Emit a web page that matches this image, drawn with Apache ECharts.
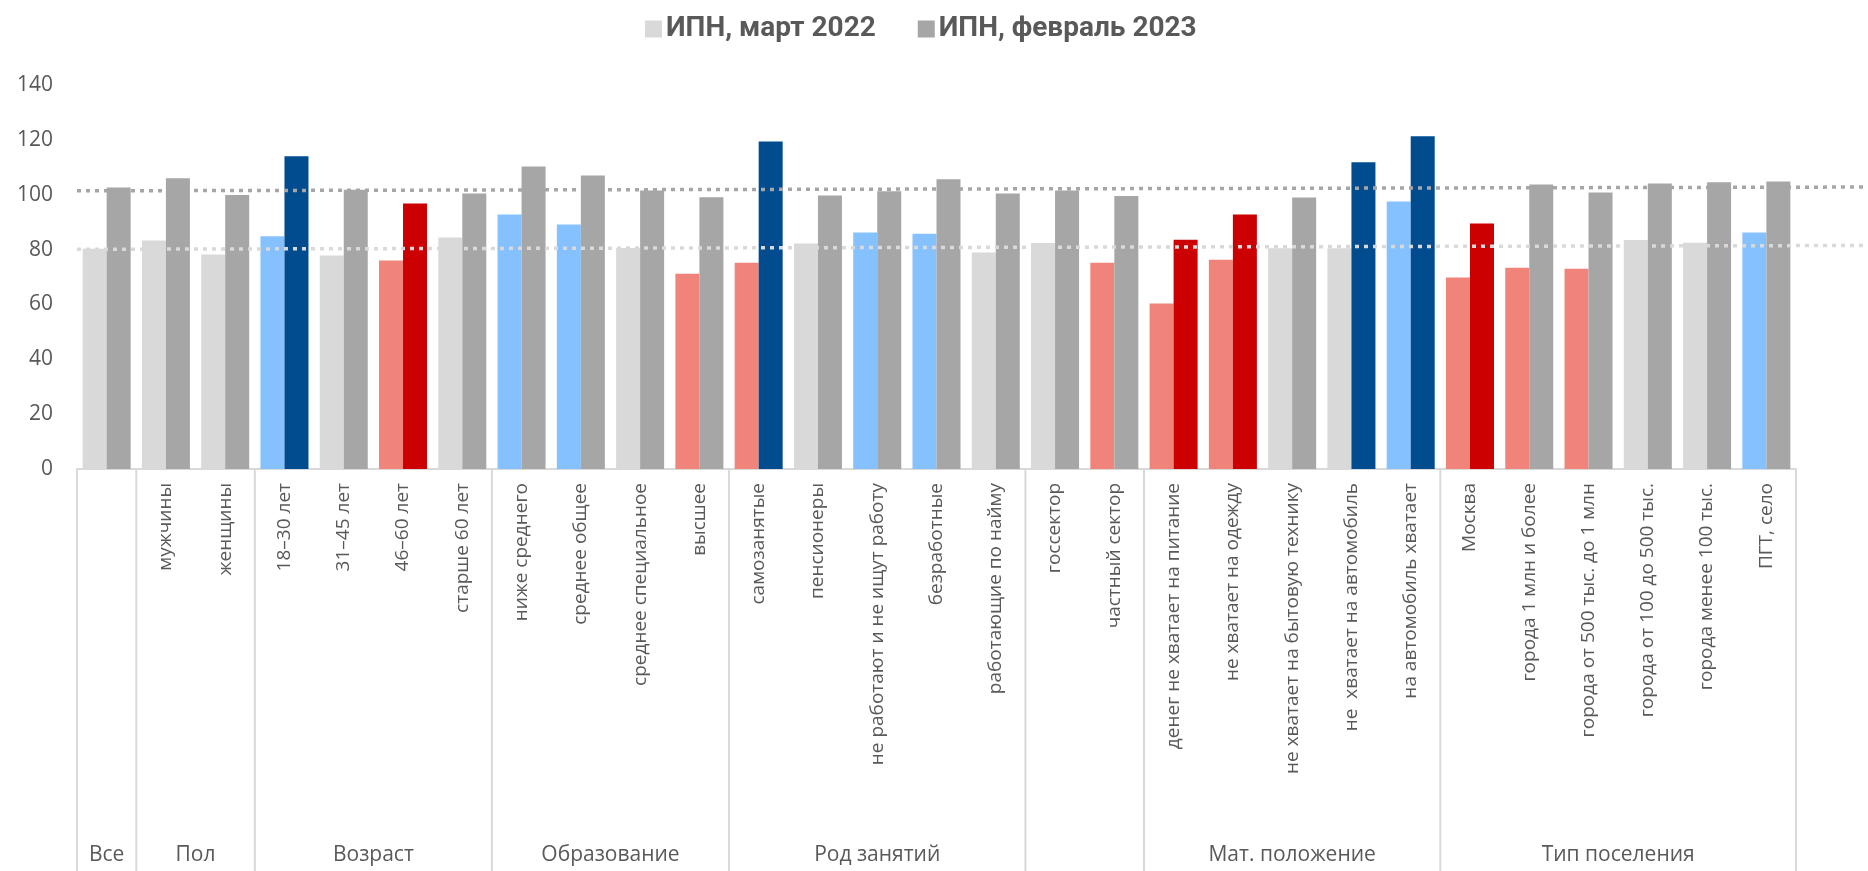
<!DOCTYPE html>
<html>
<head>
<meta charset="utf-8">
<script src="https://cdn.jsdelivr.net/npm/echarts@6/dist/echarts.min.js"></script>
<style>html,body{margin:0;padding:0;background:#fff;}#c{width:1868px;height:871px;}</style>
</head>
<body>
<div id="c"></div>
<script>
const categories = ['','мужчины','женщины','18–30 лет','31–45 лет','46–60 лет','старше 60 лет',
  'ниже среднего','среднее общее','среднее специальное','высшее',
  'самозанятые','пенсионеры','не работают и не ищут работу','безработные','работающие по найму',
  'госсектор','частный сектор',
  'денег не хватает на питание','не хватает на одежду','не хватает на бытовую технику','не  хватает на автомобиль','на автомобиль хватает',
  'Москва','города 1 млн и более','города от 500 тыс. до 1 млн','города от 100 до 500 тыс.','города менее 100 тыс.','ПГТ, село'];
const march2022 = [80.3,83.3,78.2,84.9,77.8,76.0,84.4,92.8,89.1,80.6,71.2,75.2,82.2,86.2,85.8,78.9,82.4,75.2,60.3,76.3,80.5,80.5,97.5,69.8,73.4,73.0,83.5,82.5,86.2];
const feb2023   = [102.6,106.0,99.9,114.0,101.8,96.8,100.4,110.3,107.0,101.5,99.1,119.4,99.7,101.3,105.6,100.4,101.5,99.5,83.6,92.8,99.0,111.8,121.3,89.5,103.7,100.8,104.1,104.5,104.8];
// significance of difference: 'up', 'down', 'n' (none)
const marchSignif = ['n','n','n','up','n','down','n','up','up','n','down','down','n','up','up','n','n','down','down','down','n','n','up','down','down','down','n','n','up'];
const febSignif   = ['n','n','n','up','n','down','n','n','n','n','n','up','n','n','n','n','n','n','down','down','n','up','up','down','n','n','n','n','n'];
const groupNames = ['Все','Пол','Возраст','Образование','Род занятий','','Мат. положение','Тип поселения'];
const groupSizes = [1,2,4,4,5,2,5,6];
const seriesNames = ['ИПН, март 2022','ИПН, февраль 2023'];
// reference levels (start, end of the dotted lines)
const refFeb = [101.4, 102.8];
const refMarch = [80.1, 81.5];
const yTicks = {min:0, max:140, step:20};

const colMarch = {n:'#d9d9d9', up:'#85c1ff', down:'#f0837a'};
const colFeb = {n:'#a6a6a6', up:'#004c8f', down:'#cc0000'};

const groups = [];
let s = 0;
groupNames.forEach((g,i)=>{ groups.push([s, s+groupSizes[i], g]); s += groupSizes[i]; });
const nCat = categories.length;

const textCol = '#595959';
const L = 77, R = 72, T = 85, B = 402;

const chart = echarts.init(document.getElementById('c'), null, {renderer:'canvas'});
chart.setOption({
  animation:false,
  legend:{
    data:seriesNames, left:640, top:10, itemWidth:17, itemHeight:17, itemGap:42, icon:'rect',
    textStyle:{color:textCol, fontFamily:'Roboto', fontWeight:'bold', fontSize:28, padding:[0,0,0,-1]}
  },
  grid:[
    {left:L, right:R, top:T, bottom:B},
    {left:L, right:R, top:469, bottom:0},
    {left:L, right:0, top:T, bottom:B}
  ],
  xAxis:[
    {type:'category', gridIndex:0, data:categories,
     axisLine:{lineStyle:{color:'#d9d9d9', width:2}}, axisTick:{show:false},
     axisLabel:{rotate:90, interval:0, margin:14, color:textCol, fontFamily:'Open Sans', fontSize:19}},
    {type:'value', gridIndex:1, min:0, max:nCat, show:false},
    {type:'value', gridIndex:2, min:0, max:1, show:false}
  ],
  yAxis:[
    {type:'value', gridIndex:0, min:yTicks.min, max:yTicks.max, interval:yTicks.step,
     axisLine:{show:false}, axisTick:{show:false}, splitLine:{show:false},
     axisLabel:{margin:24, color:textCol, fontFamily:'Open Sans', fontSize:21}},
    {type:'value', gridIndex:1, min:0, max:1, show:false},
    {type:'value', gridIndex:2, min:yTicks.min, max:yTicks.max, show:false}
  ],
  series:[
    {name:seriesNames[0], type:'bar', xAxisIndex:0, yAxisIndex:0, barGap:'0%', barCategoryGap:'19%',
     itemStyle:{color:colMarch.n},
     data:march2022.map((v,i)=>({value:v, itemStyle:{color:colMarch[marchSignif[i]]}}))},
    {name:seriesNames[1], type:'bar', xAxisIndex:0, yAxisIndex:0, barGap:'0%', barCategoryGap:'19%',
     itemStyle:{color:colFeb.n},
     data:feb2023.map((v,i)=>({value:v, itemStyle:{color:colFeb[febSignif[i]]}}))},
    {type:'line', xAxisIndex:2, yAxisIndex:2, symbol:'none', z:5, silent:true,
     lineStyle:{color:'#a6a6a6', width:3.5, type:[4,5]}, data:[[0,refFeb[0]],[1,refFeb[1]]]},
    {type:'line', xAxisIndex:2, yAxisIndex:2, symbol:'none', z:5, silent:true,
     lineStyle:{color:'#d9d9d9', width:3.5, type:[4,5]}, data:[[0,refMarch[0]],[1,refMarch[1]]]},
    {type:'custom', xAxisIndex:1, yAxisIndex:1, silent:true, clip:false,
     data:groups,
     renderItem:function(params, api){
       const st = api.value(0), en = api.value(1);
       const p0 = api.coord([st, 1]), p1 = api.coord([st, 0]);
       const q0 = api.coord([en, 1]);
       const mid = api.coord([(st+en)/2, 0]);
       const name = groups[params.dataIndex][2];
       const children = [
         {type:'line', shape:{x1:p0[0], y1:p0[1], x2:p1[0], y2:p1[1]}, style:{stroke:'#d9d9d9', lineWidth:2}},
         {type:'text', style:{text:name, x:mid[0], y:mid[1]-16, textAlign:'center', textVerticalAlign:'middle',
           fill:textCol, font:'21px "Open Sans"'}}
       ];
       if (params.dataIndex === groups.length-1) {
         children.push({type:'line', shape:{x1:q0[0], y1:q0[1], x2:q0[0], y2:q0[1]+1000}, style:{stroke:'#d9d9d9', lineWidth:2}});
       }
       return {type:'group', children:children};
     }}
  ]
});
</script>
</body>
</html>
